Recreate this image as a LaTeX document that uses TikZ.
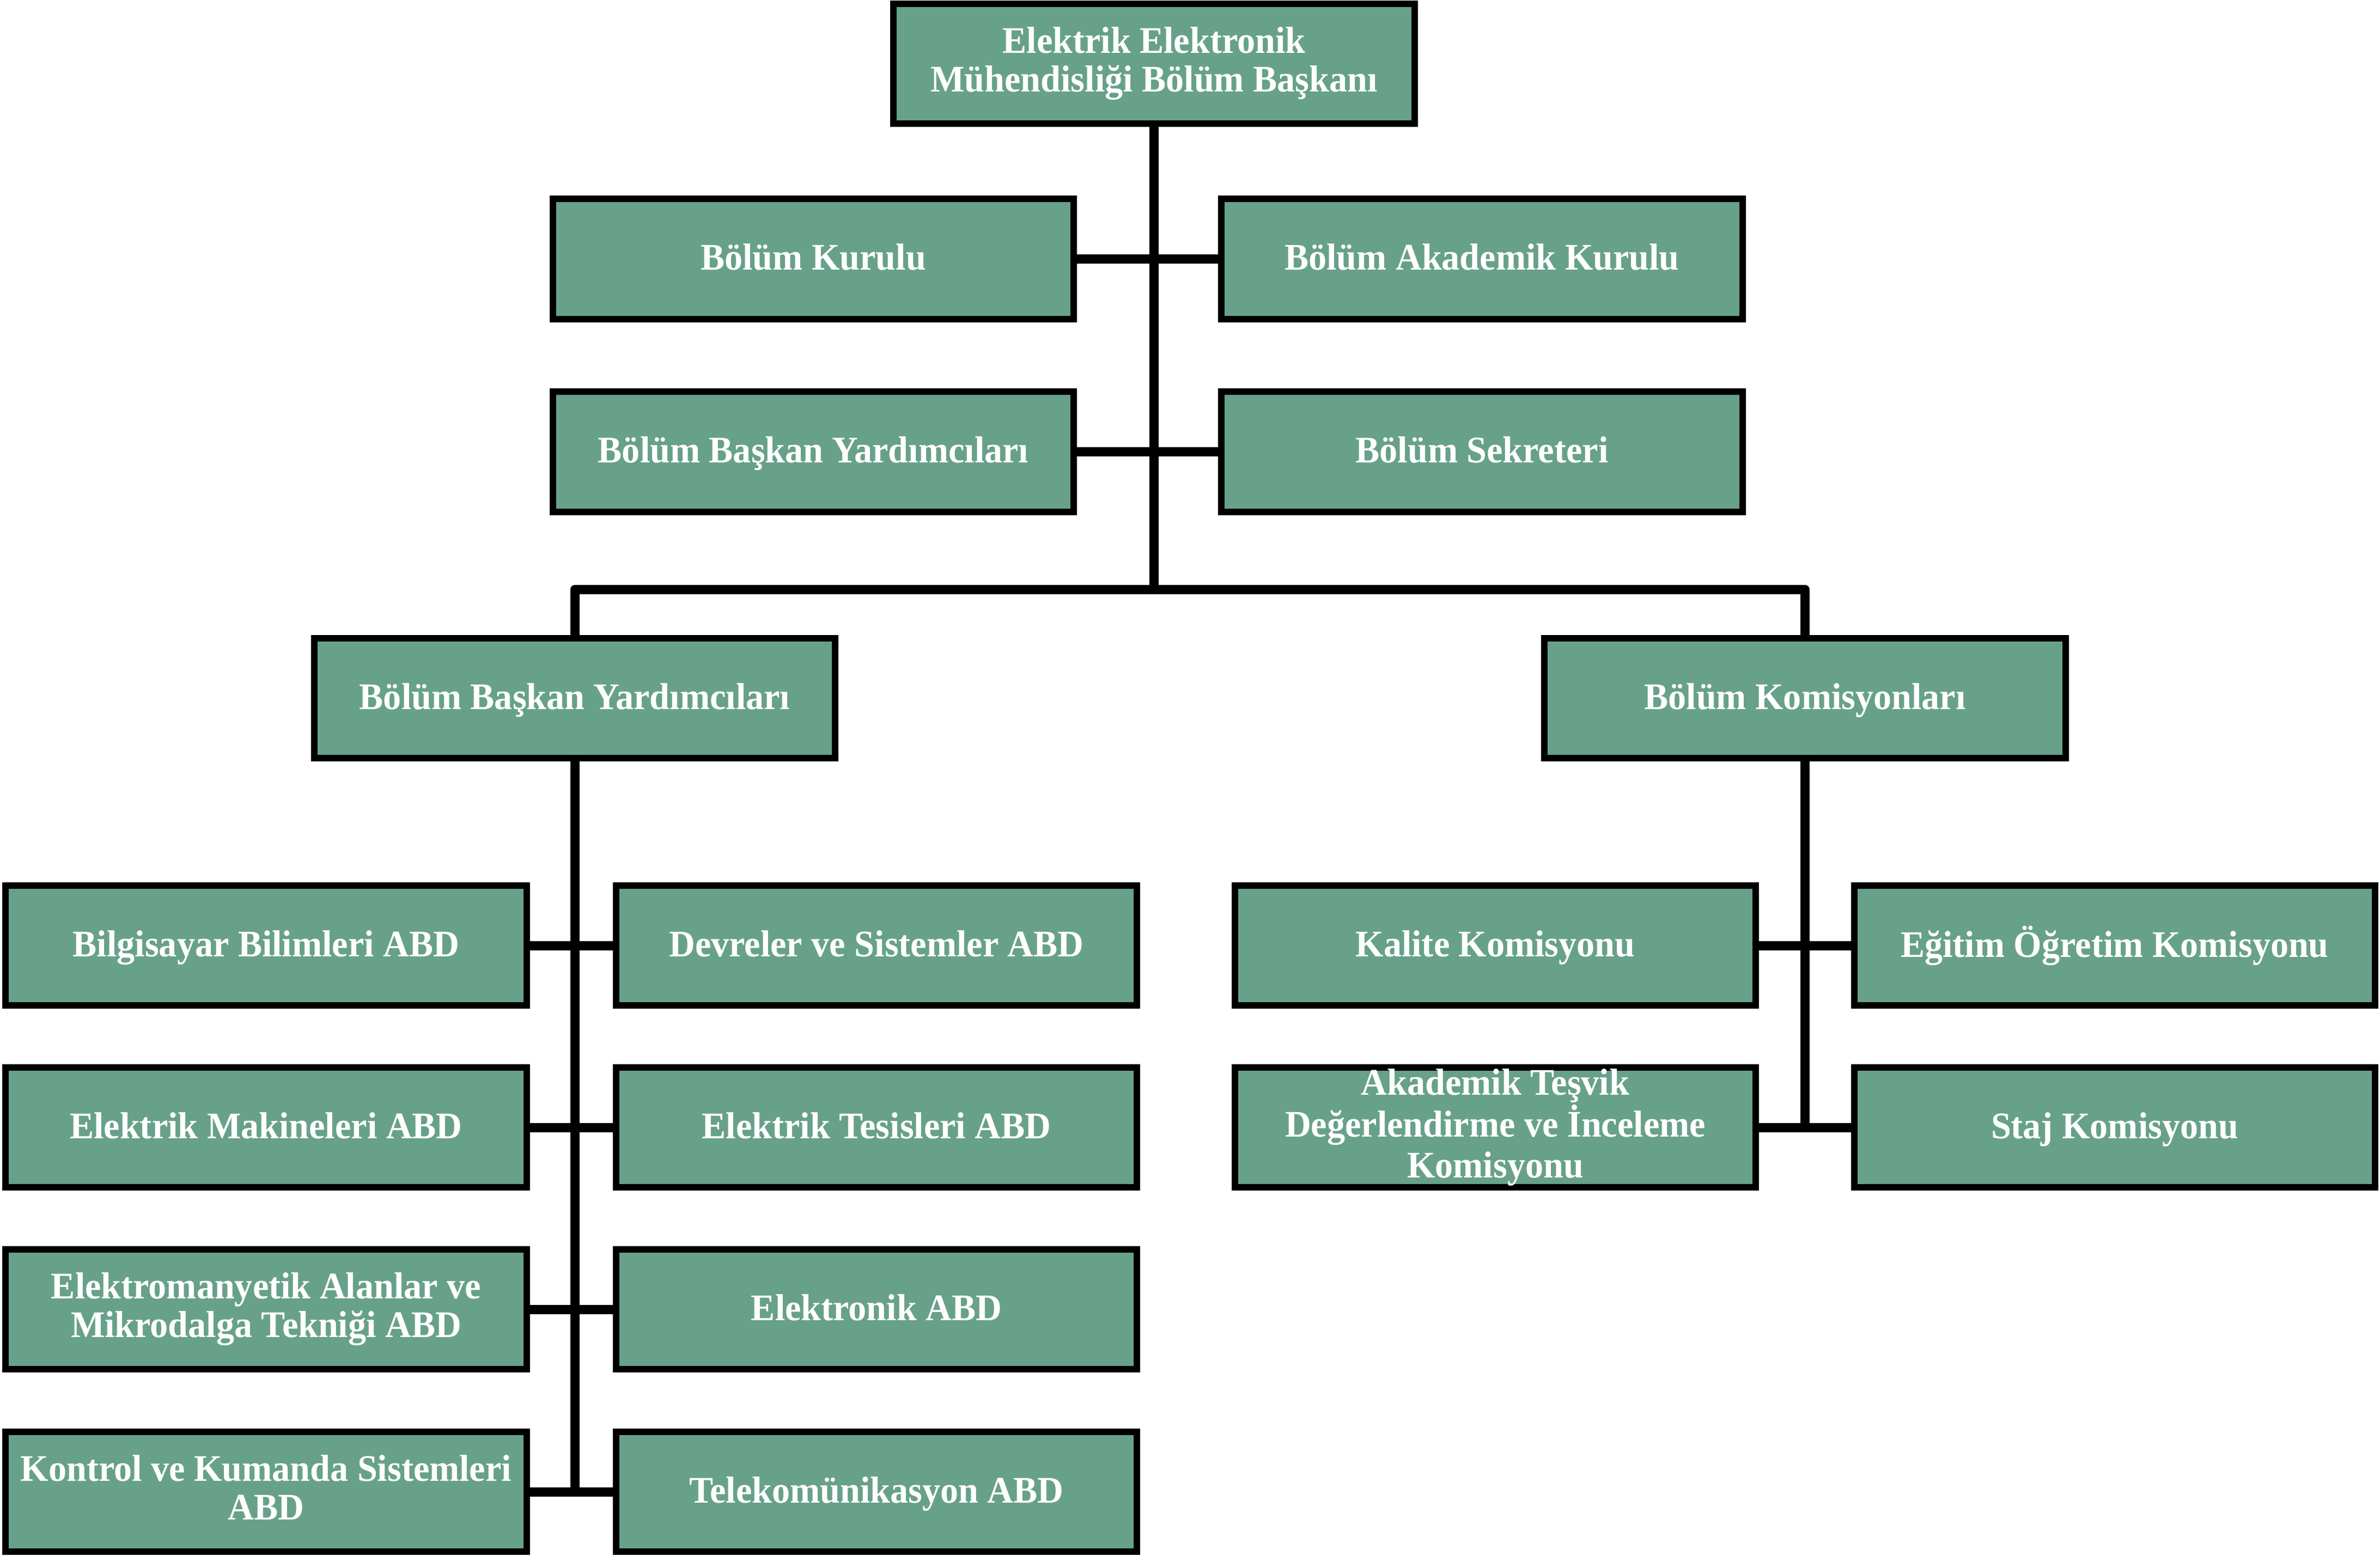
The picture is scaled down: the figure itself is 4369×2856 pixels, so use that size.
\documentclass[tikz,border=0pt]{standalone}
\usepackage{fontspec}
\setmainfont{Liberation Serif}[FakeStretch=0.96]
\definecolor{boxgreen}{RGB}{104,161,138}
\newcommand{\mys}{\rule[-4.3pt]{0pt}{20.2pt}}
\tikzset{
  box/.style={draw=black, line width=0.12cm, fill=boxgreen,
    minimum width=9.56cm, minimum height=2.20cm, inner sep=0pt,
    text=white, align=center,
    font=\fontsize{19.6pt}{20.2pt}\selectfont\bfseries,
    execute at begin node=\mys},
  conn/.style={draw=black, line width=0.17cm, line cap=round, line join=round},
}
\begin{document}
\begin{tikzpicture}[x=0.01cm,y=-0.01cm]
\useasboundingbox (0,0) rectangle (4369,2856);
% top levels
\node[box] (top) at (2118.5,117) {Elektrik Elektronik\\\mys Mühendisliği Bölüm Başkanı};
\node[box] (bk) at (1493,475.5) {Bölüm Kurulu};
\node[box] (bak) at (2720.5,475.5) {Bölüm Akademik Kurulu};
\node[box] (byA) at (1493,829.5) {Bölüm Başkan Yardımcıları};
\node[box] (bs) at (2720.5,829.5) {Bölüm Sekreteri};
\node[box] (byB) at (1055,1282) {Bölüm Başkan Yardımcıları};
\node[box] (bko) at (3313.5,1282) {Bölüm Komisyonları};
% left block
\node[box] (a1) at (488.5,1736) {Bilgisayar Bilimleri ABD};
\node[box] (b1) at (1609,1736) {Devreler ve Sistemler ABD};
\node[box] (a2) at (488.5,2070) {Elektrik Makineleri ABD};
\node[box] (b2) at (1609,2070) {Elektrik Tesisleri ABD};
\node[box] (a3) at (488.5,2404) {Elektromanyetik Alanlar ve\\\mys Mikrodalga Tekniği ABD};
\node[box] (b3) at (1609,2404) {Elektronik ABD};
\node[box] (a4) at (488.5,2739) {Kontrol ve Kumanda Sistemleri\\\mys ABD};
\node[box] (b4) at (1609,2739) {Telekomünikasyon ABD};
% right block
\node[box] (c1) at (2745,1736) {Kalite Komisyonu};
\node[box] (d1) at (3882,1736) {Eğitim Öğretim Komisyonu};
\node[box] (c2) at (2745,2070) {Akademik Teşvik\\\mys Değerlendirme ve İnceleme\\\mys Komisyonu};
\node[box] (d2) at (3882,2070) {Staj Komisyonu};
% coordinates
\coordinate (br) at (top.south |- 0,1082.5);
\coordinate (lend) at (byB.south |- a4.east);
\coordinate (rend) at (bko.south |- c2.east);
% connectors
\draw[conn] (top.south) -- (br);
\draw[conn] (byB.north) |- (br) -| (bko.north);
\draw[conn] (byB.south) -- (lend);
\draw[conn] (bko.south) -- (rend);
\draw[conn] (bk.east) -- (bak.west);
\draw[conn] (byA.east) -- (bs.west);
\draw[conn] (a1.east) -- (b1.west);
\draw[conn] (a2.east) -- (b2.west);
\draw[conn] (a3.east) -- (b3.west);
\draw[conn] (a4.east) -- (b4.west);
\draw[conn] (c1.east) -- (d1.west);
\draw[conn] (c2.east) -- (d2.west);
\end{tikzpicture}
\end{document}
